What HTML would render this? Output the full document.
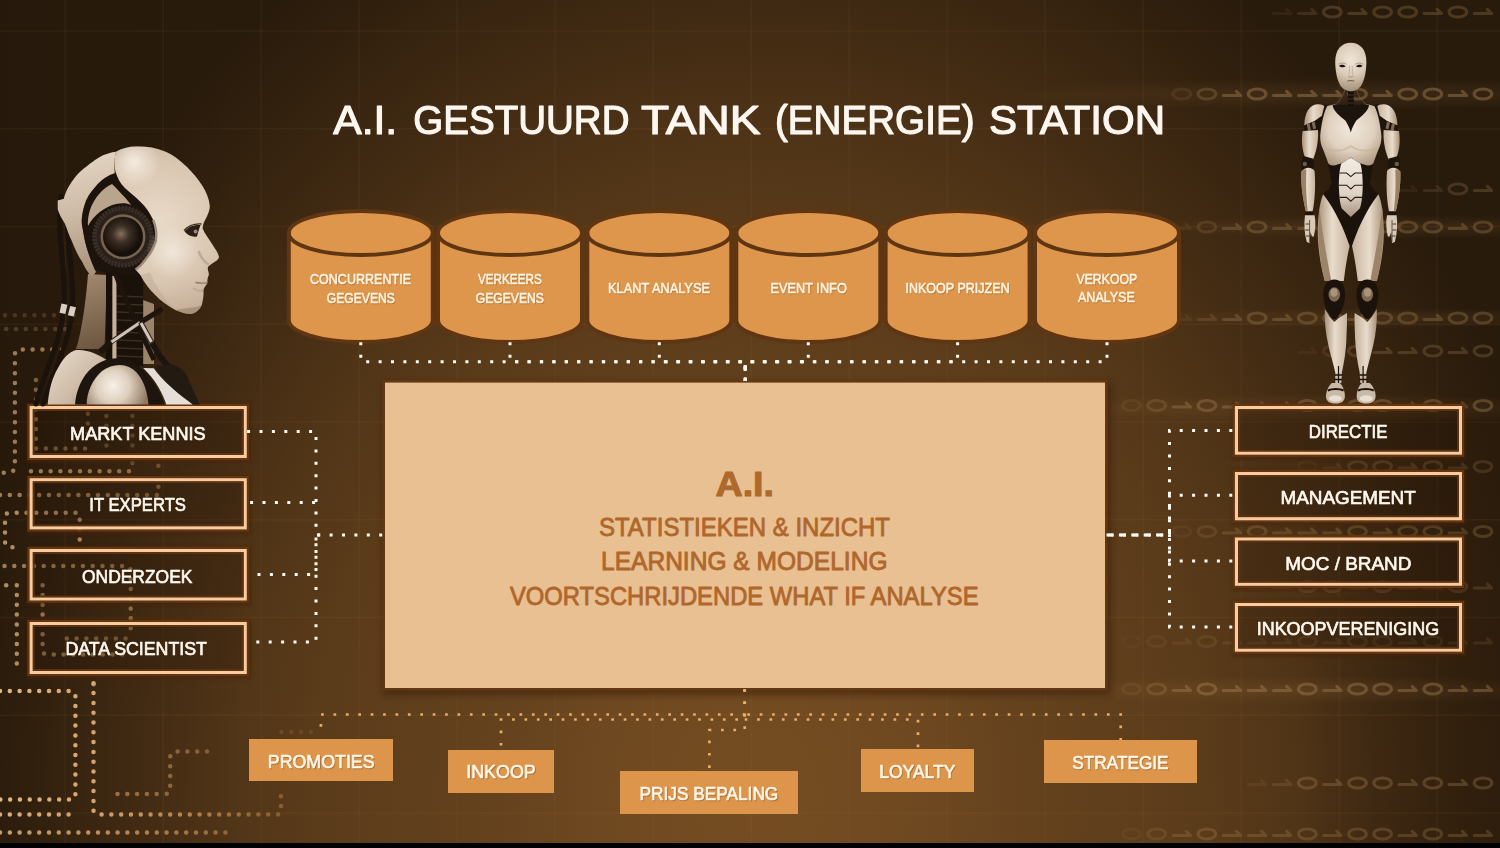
<!DOCTYPE html><html><head><meta charset="utf-8"><title>A.I. gestuurd tank station</title>
<style>html,body{margin:0;padding:0;background:#000;overflow:hidden}svg{display:block}text{font-family:"Liberation Sans",sans-serif}</style></head><body>
<svg width="1500" height="848" viewBox="0 0 1500 848">
<defs>
<radialGradient id="bg" cx="760" cy="800" r="1000" gradientUnits="userSpaceOnUse" gradientTransform="translate(760 800) scale(0.815 1) translate(-760 -800)">
<stop offset="0" stop-color="#764d22"/><stop offset="0.2" stop-color="#6e4820"/><stop offset="0.3" stop-color="#66431e"/><stop offset="0.55" stop-color="#5a3b1a"/><stop offset="0.65" stop-color="#513517"/><stop offset="0.75" stop-color="#452d14"/><stop offset="0.97" stop-color="#2b1c0c"/><stop offset="1" stop-color="#291b0c"/>
</radialGradient>
<linearGradient id="rightdark" x1="0" x2="1" y1="0" y2="0"><stop offset="0" stop-color="#2a1a0a" stop-opacity="0"/><stop offset="1" stop-color="#2a1a0a" stop-opacity="0.55"/></linearGradient>
<linearGradient id="leftdark" x1="0" x2="1" y1="0" y2="0"><stop offset="0" stop-color="#1c1005" stop-opacity="0.7"/><stop offset="0.35" stop-color="#1c1005" stop-opacity="0.3"/><stop offset="1" stop-color="#1c1005" stop-opacity="0"/></linearGradient>
<linearGradient id="rightdark" x1="0" x2="1" y1="0" y2="0"><stop offset="0" stop-color="#1c1005" stop-opacity="0"/><stop offset="1" stop-color="#1c1005" stop-opacity="0.35"/></linearGradient>
<radialGradient id="glow" cx="0.5" cy="0.5" r="0.5"><stop offset="0" stop-color="#a87a44" stop-opacity="0.16"/><stop offset="1" stop-color="#a87a44" stop-opacity="0"/></radialGradient>
<filter id="sh" x="-10%" y="-10%" width="120%" height="130%"><feGaussianBlur stdDeviation="3"/></filter>
<filter id="b2" x="-5%" y="-20%" width="110%" height="140%"><feGaussianBlur stdDeviation="1.6"/></filter>
<filter id="b1"><feGaussianBlur stdDeviation="0.6"/></filter>
</defs>
<rect width="1500" height="848" fill="url(#bg)"/>
<rect x="0" width="260" height="848" fill="url(#leftdark)" opacity="0.25"/>
<rect x="1300" y="420" width="200" height="428" fill="url(#rightdark)"/>
<ellipse cx="1330" cy="94" rx="330" ry="16" fill="url(#glow)"/>
<ellipse cx="1330" cy="408" rx="300" ry="14" fill="url(#glow)"/>
<ellipse cx="1300" cy="690" rx="330" ry="14" fill="url(#glow)"/>
<ellipse cx="1380" cy="227" rx="240" ry="12" fill="url(#glow)"/>
<ellipse cx="1380" cy="318" rx="240" ry="10" fill="url(#glow)"/>
<g id="grid" stroke="#c08a4a" stroke-opacity="0.075" stroke-width="1.5"><line x1="65.2" y1="0" x2="65.2" y2="848"/><line x1="163.2" y1="0" x2="163.2" y2="848"/><line x1="261.2" y1="0" x2="261.2" y2="848"/><line x1="359.2" y1="0" x2="359.2" y2="848"/><line x1="457.2" y1="0" x2="457.2" y2="848"/><line x1="555.2" y1="0" x2="555.2" y2="848"/><line x1="653.2" y1="0" x2="653.2" y2="848"/><line x1="751.2" y1="0" x2="751.2" y2="848"/><line x1="849.2" y1="0" x2="849.2" y2="848"/><line x1="947.2" y1="0" x2="947.2" y2="848"/><line x1="1045.2" y1="0" x2="1045.2" y2="848"/><line x1="1143.2" y1="0" x2="1143.2" y2="848"/><line x1="1241.2" y1="0" x2="1241.2" y2="848"/><line x1="1339.2" y1="0" x2="1339.2" y2="848"/><line x1="1437.2" y1="0" x2="1437.2" y2="848"/><line x1="1535.2" y1="0" x2="1535.2" y2="848"/><line x1="0" y1="31.0" x2="1500" y2="31.0"/><line x1="0" y1="128.75" x2="1500" y2="128.75"/><line x1="0" y1="226.5" x2="1500" y2="226.5"/><line x1="0" y1="324.25" x2="1500" y2="324.25"/><line x1="0" y1="422.0" x2="1500" y2="422.0"/><line x1="0" y1="519.75" x2="1500" y2="519.75"/><line x1="0" y1="617.5" x2="1500" y2="617.5"/><line x1="0" y1="715.25" x2="1500" y2="715.25"/><line x1="0" y1="813.0" x2="1500" y2="813.0"/></g>
<g id="binary" fill="none" stroke="#b08a5c" stroke-opacity="0.5" stroke-width="3.1" stroke-linecap="round" stroke-linejoin="round" filter="url(#b1)"><path d="M1273.5,13.5 H1290.9 L1286.6000000000001,9.4" opacity="0.19"/><path d="M1298.6,13.5 H1316.0 L1311.7,9.4" opacity="0.36"/><ellipse cx="1332.4" cy="12" rx="8.8" ry="5" opacity="0.52"/><path d="M1348.8,13.5 H1366.2 L1361.9,9.4" opacity="0.55"/><ellipse cx="1382.6" cy="12" rx="8.8" ry="5" opacity="0.55"/><ellipse cx="1407.7" cy="12" rx="8.8" ry="5" opacity="0.55"/><path d="M1424.1,13.5 H1441.5 L1437.2,9.4" opacity="0.55"/><ellipse cx="1457.9" cy="12" rx="8.8" ry="5" opacity="0.55"/><path d="M1474.3,13.5 H1491.7 L1487.4,9.4" opacity="0.55"/><ellipse cx="1181.8" cy="94" rx="8.8" ry="5" opacity="0.28"/><ellipse cx="1206.9" cy="94" rx="8.8" ry="5" opacity="0.52"/><path d="M1223.3,95.5 H1240.7 L1236.4,91.4" opacity="0.76"/><ellipse cx="1257.1" cy="94" rx="8.8" ry="5" opacity="0.80"/><path d="M1273.5,95.5 H1290.9 L1286.6000000000001,91.4" opacity="0.80"/><path d="M1298.6,95.5 H1316.0 L1311.7,91.4" opacity="0.80"/><path d="M1323.7,95.5 H1341.1000000000001 L1336.8000000000002,91.4" opacity="0.80"/><ellipse cx="1357.5" cy="94" rx="8.8" ry="5" opacity="0.80"/><path d="M1373.8999999999999,95.5 H1391.3 L1387.0,91.4" opacity="0.80"/><ellipse cx="1407.7" cy="94" rx="8.8" ry="5" opacity="0.80"/><ellipse cx="1432.8" cy="94" rx="8.8" ry="5" opacity="0.80"/><path d="M1449.2,95.5 H1466.6000000000001 L1462.3000000000002,91.4" opacity="0.80"/><ellipse cx="1483.0" cy="94" rx="8.8" ry="5" opacity="0.80"/><path d="M1399.0,190.5 H1416.4 L1412.1000000000001,186.4" opacity="0.17"/><path d="M1424.1,190.5 H1441.5 L1437.2,186.4" opacity="0.32"/><ellipse cx="1457.9" cy="189" rx="8.8" ry="5" opacity="0.47"/><path d="M1474.3,190.5 H1491.7 L1487.4,186.4" opacity="0.50"/><path d="M1173.1,228.5 H1190.5 L1186.2,224.4" opacity="0.21"/><ellipse cx="1206.9" cy="227" rx="8.8" ry="5" opacity="0.39"/><path d="M1223.3,228.5 H1240.7 L1236.4,224.4" opacity="0.57"/><ellipse cx="1257.1" cy="227" rx="8.8" ry="5" opacity="0.60"/><path d="M1273.5,228.5 H1290.9 L1286.6000000000001,224.4" opacity="0.60"/><path d="M1298.6,228.5 H1316.0 L1311.7,224.4" opacity="0.60"/><ellipse cx="1332.4" cy="227" rx="8.8" ry="5" opacity="0.60"/><path d="M1348.8,228.5 H1366.2 L1361.9,224.4" opacity="0.60"/><ellipse cx="1382.6" cy="227" rx="8.8" ry="5" opacity="0.60"/><ellipse cx="1407.7" cy="227" rx="8.8" ry="5" opacity="0.60"/><ellipse cx="1432.8" cy="227" rx="8.8" ry="5" opacity="0.60"/><path d="M1449.2,228.5 H1466.6000000000001 L1462.3000000000002,224.4" opacity="0.60"/><ellipse cx="1483.0" cy="227" rx="8.8" ry="5" opacity="0.60"/><path d="M1173.1,319.5 H1190.5 L1186.2,315.4" opacity="0.21"/><path d="M1198.2,319.5 H1215.6000000000001 L1211.3000000000002,315.4" opacity="0.39"/><path d="M1223.3,319.5 H1240.7 L1236.4,315.4" opacity="0.57"/><ellipse cx="1257.1" cy="318" rx="8.8" ry="5" opacity="0.60"/><path d="M1273.5,319.5 H1290.9 L1286.6000000000001,315.4" opacity="0.60"/><ellipse cx="1307.3" cy="318" rx="8.8" ry="5" opacity="0.60"/><ellipse cx="1332.4" cy="318" rx="8.8" ry="5" opacity="0.60"/><path d="M1348.8,319.5 H1366.2 L1361.9,315.4" opacity="0.60"/><ellipse cx="1382.6" cy="318" rx="8.8" ry="5" opacity="0.60"/><ellipse cx="1407.7" cy="318" rx="8.8" ry="5" opacity="0.60"/><path d="M1424.1,319.5 H1441.5 L1437.2,315.4" opacity="0.60"/><ellipse cx="1457.9" cy="318" rx="8.8" ry="5" opacity="0.60"/><ellipse cx="1483.0" cy="318" rx="8.8" ry="5" opacity="0.60"/><path d="M1298.6,352.5 H1316.0 L1311.7,348.4" opacity="0.17"/><ellipse cx="1332.4" cy="351" rx="8.8" ry="5" opacity="0.32"/><ellipse cx="1357.5" cy="351" rx="8.8" ry="5" opacity="0.47"/><path d="M1373.8999999999999,352.5 H1391.3 L1387.0,348.4" opacity="0.50"/><path d="M1399.0,352.5 H1416.4 L1412.1000000000001,348.4" opacity="0.50"/><ellipse cx="1432.8" cy="351" rx="8.8" ry="5" opacity="0.50"/><path d="M1449.2,352.5 H1466.6000000000001 L1462.3000000000002,348.4" opacity="0.50"/><ellipse cx="1483.0" cy="351" rx="8.8" ry="5" opacity="0.50"/><ellipse cx="1131.6" cy="405.5" rx="8.8" ry="5" opacity="0.24"/><ellipse cx="1156.7" cy="405.5" rx="8.8" ry="5" opacity="0.45"/><path d="M1173.1,407.0 H1190.5 L1186.2,402.9" opacity="0.66"/><ellipse cx="1206.9" cy="405.5" rx="8.8" ry="5" opacity="0.70"/><path d="M1223.3,407.0 H1240.7 L1236.4,402.9" opacity="0.70"/><path d="M1248.3999999999999,407.0 H1265.8 L1261.5,402.9" opacity="0.70"/><path d="M1273.5,407.0 H1290.9 L1286.6000000000001,402.9" opacity="0.70"/><ellipse cx="1307.3" cy="405.5" rx="8.8" ry="5" opacity="0.70"/><path d="M1323.7,407.0 H1341.1000000000001 L1336.8000000000002,402.9" opacity="0.70"/><ellipse cx="1357.5" cy="405.5" rx="8.8" ry="5" opacity="0.70"/><ellipse cx="1382.6" cy="405.5" rx="8.8" ry="5" opacity="0.70"/><path d="M1399.0,407.0 H1416.4 L1412.1000000000001,402.9" opacity="0.70"/><ellipse cx="1432.8" cy="405.5" rx="8.8" ry="5" opacity="0.70"/><path d="M1449.2,407.0 H1466.6000000000001 L1462.3000000000002,402.9" opacity="0.70"/><ellipse cx="1483.0" cy="405.5" rx="8.8" ry="5" opacity="0.70"/><ellipse cx="1307.3" cy="466.5" rx="8.8" ry="5" opacity="0.14"/><path d="M1323.7,468.0 H1341.1000000000001 L1336.8000000000002,463.9" opacity="0.26"/><ellipse cx="1357.5" cy="466.5" rx="8.8" ry="5" opacity="0.38"/><ellipse cx="1382.6" cy="466.5" rx="8.8" ry="5" opacity="0.40"/><path d="M1399.0,468.0 H1416.4 L1412.1000000000001,463.9" opacity="0.40"/><ellipse cx="1432.8" cy="466.5" rx="8.8" ry="5" opacity="0.40"/><path d="M1449.2,468.0 H1466.6000000000001 L1462.3000000000002,463.9" opacity="0.40"/><ellipse cx="1483.0" cy="466.5" rx="8.8" ry="5" opacity="0.40"/><ellipse cx="1181.8" cy="531.5" rx="8.8" ry="5" opacity="0.19"/><ellipse cx="1206.9" cy="531.5" rx="8.8" ry="5" opacity="0.36"/><path d="M1223.3,533.0 H1240.7 L1236.4,528.9" opacity="0.52"/><ellipse cx="1257.1" cy="531.5" rx="8.8" ry="5" opacity="0.55"/><path d="M1273.5,533.0 H1290.9 L1286.6000000000001,528.9" opacity="0.55"/><path d="M1298.6,533.0 H1316.0 L1311.7,528.9" opacity="0.55"/><path d="M1323.7,533.0 H1341.1000000000001 L1336.8000000000002,528.9" opacity="0.55"/><ellipse cx="1357.5" cy="531.5" rx="8.8" ry="5" opacity="0.55"/><path d="M1373.8999999999999,533.0 H1391.3 L1387.0,528.9" opacity="0.55"/><ellipse cx="1407.7" cy="531.5" rx="8.8" ry="5" opacity="0.55"/><ellipse cx="1432.8" cy="531.5" rx="8.8" ry="5" opacity="0.55"/><path d="M1449.2,533.0 H1466.6000000000001 L1462.3000000000002,528.9" opacity="0.55"/><ellipse cx="1483.0" cy="531.5" rx="8.8" ry="5" opacity="0.55"/><path d="M1248.3999999999999,588.0 H1265.8 L1261.5,583.9" opacity="0.16"/><path d="M1273.5,588.0 H1290.9 L1286.6000000000001,583.9" opacity="0.29"/><ellipse cx="1307.3" cy="586.5" rx="8.8" ry="5" opacity="0.43"/><ellipse cx="1332.4" cy="586.5" rx="8.8" ry="5" opacity="0.45"/><path d="M1348.8,588.0 H1366.2 L1361.9,583.9" opacity="0.45"/><ellipse cx="1382.6" cy="586.5" rx="8.8" ry="5" opacity="0.45"/><path d="M1399.0,588.0 H1416.4 L1412.1000000000001,583.9" opacity="0.45"/><path d="M1424.1,588.0 H1441.5 L1437.2,583.9" opacity="0.45"/><ellipse cx="1457.9" cy="586.5" rx="8.8" ry="5" opacity="0.45"/><path d="M1474.3,588.0 H1491.7 L1487.4,583.9" opacity="0.45"/><ellipse cx="1131.6" cy="641.5" rx="8.8" ry="5" opacity="0.10"/><ellipse cx="1156.7" cy="641.5" rx="8.8" ry="5" opacity="0.19"/><path d="M1173.1,643.0 H1190.5 L1186.2,638.9" opacity="0.28"/><ellipse cx="1206.9" cy="641.5" rx="8.8" ry="5" opacity="0.30"/><path d="M1223.3,643.0 H1240.7 L1236.4,638.9" opacity="0.30"/><path d="M1248.3999999999999,643.0 H1265.8 L1261.5,638.9" opacity="0.30"/><path d="M1273.5,643.0 H1290.9 L1286.6000000000001,638.9" opacity="0.30"/><ellipse cx="1307.3" cy="641.5" rx="8.8" ry="5" opacity="0.30"/><path d="M1323.7,643.0 H1341.1000000000001 L1336.8000000000002,638.9" opacity="0.30"/><ellipse cx="1357.5" cy="641.5" rx="8.8" ry="5" opacity="0.30"/><ellipse cx="1382.6" cy="641.5" rx="8.8" ry="5" opacity="0.30"/><path d="M1399.0,643.0 H1416.4 L1412.1000000000001,638.9" opacity="0.30"/><ellipse cx="1432.8" cy="641.5" rx="8.8" ry="5" opacity="0.30"/><path d="M1449.2,643.0 H1466.6000000000001 L1462.3000000000002,638.9" opacity="0.30"/><path d="M1474.3,643.0 H1491.7 L1487.4,638.9" opacity="0.30"/><ellipse cx="1131.6" cy="689" rx="8.8" ry="5" opacity="0.26"/><ellipse cx="1156.7" cy="689" rx="8.8" ry="5" opacity="0.49"/><path d="M1173.1,690.5 H1190.5 L1186.2,686.4" opacity="0.71"/><ellipse cx="1206.9" cy="689" rx="8.8" ry="5" opacity="0.75"/><path d="M1223.3,690.5 H1240.7 L1236.4,686.4" opacity="0.75"/><path d="M1248.3999999999999,690.5 H1265.8 L1261.5,686.4" opacity="0.75"/><path d="M1273.5,690.5 H1290.9 L1286.6000000000001,686.4" opacity="0.75"/><ellipse cx="1307.3" cy="689" rx="8.8" ry="5" opacity="0.75"/><path d="M1323.7,690.5 H1341.1000000000001 L1336.8000000000002,686.4" opacity="0.75"/><ellipse cx="1357.5" cy="689" rx="8.8" ry="5" opacity="0.75"/><ellipse cx="1382.6" cy="689" rx="8.8" ry="5" opacity="0.75"/><path d="M1399.0,690.5 H1416.4 L1412.1000000000001,686.4" opacity="0.75"/><ellipse cx="1432.8" cy="689" rx="8.8" ry="5" opacity="0.75"/><path d="M1449.2,690.5 H1466.6000000000001 L1462.3000000000002,686.4" opacity="0.75"/><path d="M1474.3,690.5 H1491.7 L1487.4,686.4" opacity="0.75"/><path d="M1248.3999999999999,784.5 H1265.8 L1261.5,780.4" opacity="0.21"/><path d="M1273.5,784.5 H1290.9 L1286.6000000000001,780.4" opacity="0.39"/><ellipse cx="1307.3" cy="783" rx="8.8" ry="5" opacity="0.57"/><path d="M1323.7,784.5 H1341.1000000000001 L1336.8000000000002,780.4" opacity="0.60"/><ellipse cx="1357.5" cy="783" rx="8.8" ry="5" opacity="0.60"/><ellipse cx="1382.6" cy="783" rx="8.8" ry="5" opacity="0.60"/><path d="M1399.0,784.5 H1416.4 L1412.1000000000001,780.4" opacity="0.60"/><ellipse cx="1432.8" cy="783" rx="8.8" ry="5" opacity="0.60"/><path d="M1449.2,784.5 H1466.6000000000001 L1462.3000000000002,780.4" opacity="0.60"/><ellipse cx="1483.0" cy="783" rx="8.8" ry="5" opacity="0.60"/><ellipse cx="1131.6" cy="834" rx="8.8" ry="5" opacity="0.19"/><ellipse cx="1156.7" cy="834" rx="8.8" ry="5" opacity="0.36"/><path d="M1173.1,835.5 H1190.5 L1186.2,831.4" opacity="0.52"/><ellipse cx="1206.9" cy="834" rx="8.8" ry="5" opacity="0.55"/><path d="M1223.3,835.5 H1240.7 L1236.4,831.4" opacity="0.55"/><path d="M1248.3999999999999,835.5 H1265.8 L1261.5,831.4" opacity="0.55"/><path d="M1273.5,835.5 H1290.9 L1286.6000000000001,831.4" opacity="0.55"/><ellipse cx="1307.3" cy="834" rx="8.8" ry="5" opacity="0.55"/><path d="M1323.7,835.5 H1341.1000000000001 L1336.8000000000002,831.4" opacity="0.55"/><ellipse cx="1357.5" cy="834" rx="8.8" ry="5" opacity="0.55"/><ellipse cx="1382.6" cy="834" rx="8.8" ry="5" opacity="0.55"/><path d="M1399.0,835.5 H1416.4 L1412.1000000000001,831.4" opacity="0.55"/><ellipse cx="1432.8" cy="834" rx="8.8" ry="5" opacity="0.55"/><path d="M1449.2,835.5 H1466.6000000000001 L1462.3000000000002,831.4" opacity="0.55"/><path d="M1474.3,835.5 H1491.7 L1487.4,831.4" opacity="0.55"/></g>
<defs><linearGradient id="cfade" gradientUnits="userSpaceOnUse" x1="0" y1="0" x2="320" y2="0"><stop offset="0" stop-color="#e8c08c"/><stop offset="0.3" stop-color="#dcaa72"/><stop offset="0.6" stop-color="#cf9a5e" stop-opacity="0.8"/><stop offset="1" stop-color="#b98448" stop-opacity="0.35"/></linearGradient></defs>
<g id="circuit" fill="none" stroke="url(#cfade)" stroke-width="4.5" stroke-linecap="round" stroke-dasharray="0 9.8" filter="url(#b1)"><path d="M5,315.2 H74" opacity="0.18"/><path d="M6.2,329 H74" opacity="0.22"/><path d="M62,349.4 H20 Q14.9,349.4 14.9,355 V466 Q14.9,472 8.7,472.7 H0" opacity="0.6"/><path d="M31,471.2 H130" opacity="0.6"/><path d="M35.9,380 V448.4 H86.6" opacity="0.45"/><path d="M87.9,413.8 V440" opacity="0.35"/><path d="M106.4,416 V446" opacity="0.35"/><path d="M132.4,416 V446" opacity="0.35"/><path d="M132.4,463 h0.1" opacity="0.4"/><path d="M158.4,465.7 h0.1" opacity="0.4"/><path d="M0,494.9 H158.4 V485" opacity="0.6"/><path d="M79.7,539.4 V519.6 L78,512.7 H10 Q5,512.7 5,518 V541 Q5,547.3 11,547.3 H20" opacity="0.7"/><path d="M4.5,565.9 H125 Q130.7,565.9 130.7,571 V636" opacity="0.6"/><path d="M6.2,585.2 h0.1" opacity="0.7"/><path d="M16.8,585.2 V672" opacity="0.7"/><path d="M42.6,585.2 V650 Q42.6,654.5 48,654.5 H128.7" opacity="0.55"/><path d="M66.8,638.4 H128.7" opacity="0.5"/><path d="M93.6,684.2 h0.1" opacity="0.7"/><path d="M0,691 H70 Q75.4,691 75.4,696 V795 Q75.4,799.6 70,799.6 H0" opacity="0.95"/><path d="M0,814.5 H70" opacity="0.9"/><path d="M93.5,683.3 V810 Q93.5,814.5 99,814.5 H277 Q281,814.5 281,810 V788" opacity="0.95"/><path d="M117.5,794 H165 Q170.2,794 170.2,789 V757.5 Q170.2,751.5 176,751.5 H213.2" opacity="0.6"/><path d="M0,832.4 H226" opacity="0.8"/><path d="M281.5,732 H313" opacity="0.45"/></g>
<text x="333.2" y="134.0" font-size="41.3" textLength="64.0" lengthAdjust="spacingAndGlyphs" fill="#fdf7f0" stroke="#fdf7f0" stroke-width="1.21" stroke-linejoin="round" font-weight="normal" >A.I.</text>
<text x="413.3" y="134.0" font-size="41.3" textLength="216.2" lengthAdjust="spacingAndGlyphs" fill="#fdf7f0" stroke="#fdf7f0" stroke-width="1.21" stroke-linejoin="round" font-weight="normal" >GESTUURD</text>
<text x="641.0" y="134.0" font-size="41.3" textLength="119.5" lengthAdjust="spacingAndGlyphs" fill="#fdf7f0" stroke="#fdf7f0" stroke-width="1.21" stroke-linejoin="round" font-weight="normal" >TANK</text>
<text x="775.0" y="134.0" font-size="41.3" textLength="199.5" lengthAdjust="spacingAndGlyphs" fill="#fdf7f0" stroke="#fdf7f0" stroke-width="1.21" stroke-linejoin="round" font-weight="normal" >(ENERGIE)</text>
<text x="989.0" y="134.0" font-size="41.3" textLength="176.1" lengthAdjust="spacingAndGlyphs" fill="#fdf7f0" stroke="#fdf7f0" stroke-width="1.21" stroke-linejoin="round" font-weight="normal" >STATION</text>
<g stroke="#5f3512" stroke-width="4" fill="#dd964c" stroke-linejoin="round"><path d="M288.8,233 V320 A72,22 0 0 0 432.8,320 V233 A72,22 0 0 0 288.8,233 Z"/><path d="M288.8,233 A72,22 0 0 0 432.8,233" fill="none"/></g>
<g stroke="#5f3512" stroke-width="4" fill="#dd964c" stroke-linejoin="round"><path d="M438,233 V320 A72,22 0 0 0 582,320 V233 A72,22 0 0 0 438,233 Z"/><path d="M438,233 A72,22 0 0 0 582,233" fill="none"/></g>
<g stroke="#5f3512" stroke-width="4" fill="#dd964c" stroke-linejoin="round"><path d="M587.3,233 V320 A72,22 0 0 0 731.3,320 V233 A72,22 0 0 0 587.3,233 Z"/><path d="M587.3,233 A72,22 0 0 0 731.3,233" fill="none"/></g>
<g stroke="#5f3512" stroke-width="4" fill="#dd964c" stroke-linejoin="round"><path d="M736.3,233 V320 A72,22 0 0 0 880.3,320 V233 A72,22 0 0 0 736.3,233 Z"/><path d="M736.3,233 A72,22 0 0 0 880.3,233" fill="none"/></g>
<g stroke="#5f3512" stroke-width="4" fill="#dd964c" stroke-linejoin="round"><path d="M885.6,233 V320 A72,22 0 0 0 1029.6,320 V233 A72,22 0 0 0 885.6,233 Z"/><path d="M885.6,233 A72,22 0 0 0 1029.6,233" fill="none"/></g>
<g stroke="#5f3512" stroke-width="4" fill="#dd964c" stroke-linejoin="round"><path d="M1035,233 V320 A72,22 0 0 0 1179,320 V233 A72,22 0 0 0 1035,233 Z"/><path d="M1035,233 A72,22 0 0 0 1179,233" fill="none"/></g>
<text x="310.6" y="284.8" font-size="14.4" textLength="101.0" lengthAdjust="spacingAndGlyphs" fill="#9a5f24" stroke="#9a5f24" stroke-width="0.57" stroke-linejoin="round" font-weight="normal" opacity="0.55">CONCURRENTIE</text>
<text x="310.0" y="284.0" font-size="14.4" textLength="101.0" lengthAdjust="spacingAndGlyphs" fill="#fff4e2" stroke="#fff4e2" stroke-width="0.57" stroke-linejoin="round" font-weight="normal" >CONCURRENTIE</text>
<text x="327.3" y="303.5" font-size="14.4" textLength="68.3" lengthAdjust="spacingAndGlyphs" fill="#9a5f24" stroke="#9a5f24" stroke-width="0.57" stroke-linejoin="round" font-weight="normal" opacity="0.55">GEGEVENS</text>
<text x="326.7" y="302.7" font-size="14.4" textLength="68.3" lengthAdjust="spacingAndGlyphs" fill="#fff4e2" stroke="#fff4e2" stroke-width="0.57" stroke-linejoin="round" font-weight="normal" >GEGEVENS</text>
<text x="478.6" y="284.8" font-size="14.4" textLength="63.7" lengthAdjust="spacingAndGlyphs" fill="#9a5f24" stroke="#9a5f24" stroke-width="0.57" stroke-linejoin="round" font-weight="normal" opacity="0.55">VERKEERS</text>
<text x="478.0" y="284.0" font-size="14.4" textLength="63.7" lengthAdjust="spacingAndGlyphs" fill="#fff4e2" stroke="#fff4e2" stroke-width="0.57" stroke-linejoin="round" font-weight="normal" >VERKEERS</text>
<text x="476.3" y="303.5" font-size="14.4" textLength="68.3" lengthAdjust="spacingAndGlyphs" fill="#9a5f24" stroke="#9a5f24" stroke-width="0.57" stroke-linejoin="round" font-weight="normal" opacity="0.55">GEGEVENS</text>
<text x="475.7" y="302.7" font-size="14.4" textLength="68.3" lengthAdjust="spacingAndGlyphs" fill="#fff4e2" stroke="#fff4e2" stroke-width="0.57" stroke-linejoin="round" font-weight="normal" >GEGEVENS</text>
<text x="608.6" y="293.5" font-size="14.4" textLength="102.0" lengthAdjust="spacingAndGlyphs" fill="#9a5f24" stroke="#9a5f24" stroke-width="0.57" stroke-linejoin="round" font-weight="normal" opacity="0.55">KLANT ANALYSE</text>
<text x="608.0" y="292.7" font-size="14.4" textLength="102.0" lengthAdjust="spacingAndGlyphs" fill="#fff4e2" stroke="#fff4e2" stroke-width="0.57" stroke-linejoin="round" font-weight="normal" >KLANT ANALYSE</text>
<text x="771.1" y="293.8" font-size="14.4" textLength="76.3" lengthAdjust="spacingAndGlyphs" fill="#9a5f24" stroke="#9a5f24" stroke-width="0.57" stroke-linejoin="round" font-weight="normal" opacity="0.55">EVENT INFO</text>
<text x="770.5" y="293.0" font-size="14.4" textLength="76.3" lengthAdjust="spacingAndGlyphs" fill="#fff4e2" stroke="#fff4e2" stroke-width="0.57" stroke-linejoin="round" font-weight="normal" >EVENT INFO</text>
<text x="906.0" y="293.8" font-size="14.4" textLength="104.3" lengthAdjust="spacingAndGlyphs" fill="#9a5f24" stroke="#9a5f24" stroke-width="0.57" stroke-linejoin="round" font-weight="normal" opacity="0.55">INKOOP PRIJZEN</text>
<text x="905.4" y="293.0" font-size="14.4" textLength="104.3" lengthAdjust="spacingAndGlyphs" fill="#fff4e2" stroke="#fff4e2" stroke-width="0.57" stroke-linejoin="round" font-weight="normal" >INKOOP PRIJZEN</text>
<text x="1077.1" y="284.5" font-size="14.4" textLength="60.7" lengthAdjust="spacingAndGlyphs" fill="#9a5f24" stroke="#9a5f24" stroke-width="0.57" stroke-linejoin="round" font-weight="normal" opacity="0.55">VERKOOP</text>
<text x="1076.5" y="283.7" font-size="14.4" textLength="60.7" lengthAdjust="spacingAndGlyphs" fill="#fff4e2" stroke="#fff4e2" stroke-width="0.57" stroke-linejoin="round" font-weight="normal" >VERKOOP</text>
<text x="1078.6" y="302.8" font-size="14.4" textLength="56.8" lengthAdjust="spacingAndGlyphs" fill="#9a5f24" stroke="#9a5f24" stroke-width="0.57" stroke-linejoin="round" font-weight="normal" opacity="0.55">ANALYSE</text>
<text x="1078.0" y="302.0" font-size="14.4" textLength="56.8" lengthAdjust="spacingAndGlyphs" fill="#fff4e2" stroke="#fff4e2" stroke-width="0.57" stroke-linejoin="round" font-weight="normal" >ANALYSE</text>
<rect x="383" y="383" width="728" height="312" fill="#2a1505" opacity="0.45" filter="url(#sh)"/>
<rect x="383.7" y="381.3" width="722.6" height="308" fill="#e8c091" stroke="#613813" stroke-width="2.6"/>
<text x="715.5" y="496.0" font-size="34.4" textLength="58.5" lengthAdjust="spacingAndGlyphs" fill="#b0692c" stroke="#b0692c" stroke-width="1.05" stroke-linejoin="round" font-weight="bold" >A.I.</text>
<text x="599.0" y="536.0" font-size="25.4" textLength="291.0" lengthAdjust="spacingAndGlyphs" fill="#b0672c" stroke="#b0672c" stroke-width="0.83" stroke-linejoin="round" font-weight="normal" >STATISTIEKEN &amp; INZICHT</text>
<text x="601.0" y="570.0" font-size="25.4" textLength="286.5" lengthAdjust="spacingAndGlyphs" fill="#b0672c" stroke="#b0672c" stroke-width="0.83" stroke-linejoin="round" font-weight="normal" >LEARNING &amp; MODELING</text>
<text x="510.0" y="605.0" font-size="25.4" textLength="468.5" lengthAdjust="spacingAndGlyphs" fill="#b0672c" stroke="#b0672c" stroke-width="0.83" stroke-linejoin="round" font-weight="normal" >VOORTSCHRIJDENDE WHAT IF ANALYSE</text>
<rect x="28.6" y="405.5" width="220.20000000000002" height="55.5" fill="none" stroke="#4a2408" stroke-width="4" opacity="0.55" filter="url(#b2)"/><rect x="28.5" y="404.9" width="219.4" height="54.2" fill="none" stroke="#64360f" stroke-width="2.2"/><rect x="31.200000000000003" y="407.6" width="214.00000000000003" height="48.8" fill="#1e0f04" fill-opacity="0.2" stroke="#f9cba0" stroke-width="3.2"/><rect x="33.7" y="410.1" width="209.00000000000003" height="43.8" fill="none" stroke="#5c3110" stroke-width="1.8"/>
<rect x="28.6" y="477.7" width="220.20000000000002" height="54.69999999999999" fill="none" stroke="#4a2408" stroke-width="4" opacity="0.55" filter="url(#b2)"/><rect x="28.5" y="477.09999999999997" width="219.4" height="53.39999999999999" fill="none" stroke="#64360f" stroke-width="2.2"/><rect x="31.200000000000003" y="479.8" width="214.00000000000003" height="47.999999999999986" fill="#1e0f04" fill-opacity="0.2" stroke="#f9cba0" stroke-width="3.2"/><rect x="33.7" y="482.3" width="209.00000000000003" height="42.999999999999986" fill="none" stroke="#5c3110" stroke-width="1.8"/>
<rect x="28.6" y="548.5" width="220.20000000000002" height="55.0" fill="none" stroke="#4a2408" stroke-width="4" opacity="0.55" filter="url(#b2)"/><rect x="28.5" y="547.9" width="219.4" height="53.7" fill="none" stroke="#64360f" stroke-width="2.2"/><rect x="31.200000000000003" y="550.6" width="214.00000000000003" height="48.3" fill="#1e0f04" fill-opacity="0.2" stroke="#f9cba0" stroke-width="3.2"/><rect x="33.7" y="553.1" width="209.00000000000003" height="43.3" fill="none" stroke="#5c3110" stroke-width="1.8"/>
<rect x="28.6" y="621.5" width="220.20000000000002" height="55.5" fill="none" stroke="#4a2408" stroke-width="4" opacity="0.55" filter="url(#b2)"/><rect x="28.5" y="620.9" width="219.4" height="54.2" fill="none" stroke="#64360f" stroke-width="2.2"/><rect x="31.200000000000003" y="623.6" width="214.00000000000003" height="48.8" fill="#1e0f04" fill-opacity="0.2" stroke="#f9cba0" stroke-width="3.2"/><rect x="33.7" y="626.1" width="209.00000000000003" height="43.8" fill="none" stroke="#5c3110" stroke-width="1.8"/>
<rect x="1233.9" y="405.5" width="230.0999999999999" height="52.19999999999999" fill="none" stroke="#4a2408" stroke-width="4" opacity="0.55" filter="url(#b2)"/><rect x="1233.8000000000002" y="404.9" width="229.2999999999999" height="50.89999999999999" fill="none" stroke="#64360f" stroke-width="2.2"/><rect x="1236.5" y="407.6" width="223.89999999999992" height="45.499999999999986" fill="#1e0f04" fill-opacity="0.2" stroke="#f9cba0" stroke-width="3.2"/><rect x="1239.0" y="410.1" width="218.89999999999992" height="40.499999999999986" fill="none" stroke="#5c3110" stroke-width="1.8"/>
<rect x="1233.9" y="471.5" width="230.0999999999999" height="51.799999999999955" fill="none" stroke="#4a2408" stroke-width="4" opacity="0.55" filter="url(#b2)"/><rect x="1233.8000000000002" y="470.9" width="229.2999999999999" height="50.49999999999996" fill="none" stroke="#64360f" stroke-width="2.2"/><rect x="1236.5" y="473.6" width="223.89999999999992" height="45.09999999999995" fill="#1e0f04" fill-opacity="0.2" stroke="#f9cba0" stroke-width="3.2"/><rect x="1239.0" y="476.1" width="218.89999999999992" height="40.09999999999995" fill="none" stroke="#5c3110" stroke-width="1.8"/>
<rect x="1233.9" y="537.0" width="230.0999999999999" height="51.799999999999955" fill="none" stroke="#4a2408" stroke-width="4" opacity="0.55" filter="url(#b2)"/><rect x="1233.8000000000002" y="536.4" width="229.2999999999999" height="50.49999999999996" fill="none" stroke="#64360f" stroke-width="2.2"/><rect x="1236.5" y="539.1" width="223.89999999999992" height="45.09999999999995" fill="#1e0f04" fill-opacity="0.2" stroke="#f9cba0" stroke-width="3.2"/><rect x="1239.0" y="541.6" width="218.89999999999992" height="40.09999999999995" fill="none" stroke="#5c3110" stroke-width="1.8"/>
<rect x="1233.9" y="602.5" width="230.0999999999999" height="52.200000000000045" fill="none" stroke="#4a2408" stroke-width="4" opacity="0.55" filter="url(#b2)"/><rect x="1233.8000000000002" y="601.9" width="229.2999999999999" height="50.90000000000005" fill="none" stroke="#64360f" stroke-width="2.2"/><rect x="1236.5" y="604.6" width="223.89999999999992" height="45.50000000000004" fill="#1e0f04" fill-opacity="0.2" stroke="#f9cba0" stroke-width="3.2"/><rect x="1239.0" y="607.1" width="218.89999999999992" height="40.50000000000004" fill="none" stroke="#5c3110" stroke-width="1.8"/>
<text x="70.1" y="439.8" font-size="19.2" textLength="135.5" lengthAdjust="spacingAndGlyphs" fill="#fff8ee" stroke="#fff8ee" stroke-width="0.68" stroke-linejoin="round" font-weight="normal" >MARKT KENNIS</text>
<text x="89.3" y="511.3" font-size="19.2" textLength="96.7" lengthAdjust="spacingAndGlyphs" fill="#fff8ee" stroke="#fff8ee" stroke-width="0.68" stroke-linejoin="round" font-weight="normal" >IT EXPERTS</text>
<text x="82.0" y="582.6" font-size="19.2" textLength="110.4" lengthAdjust="spacingAndGlyphs" fill="#fff8ee" stroke="#fff8ee" stroke-width="0.68" stroke-linejoin="round" font-weight="normal" >ONDERZOEK</text>
<text x="65.4" y="655.0" font-size="19.2" textLength="141.6" lengthAdjust="spacingAndGlyphs" fill="#fff8ee" stroke="#fff8ee" stroke-width="0.68" stroke-linejoin="round" font-weight="normal" >DATA SCIENTIST</text>
<text x="1308.8" y="438.3" font-size="19.2" textLength="78.7" lengthAdjust="spacingAndGlyphs" fill="#fff8ee" stroke="#fff8ee" stroke-width="0.68" stroke-linejoin="round" font-weight="normal" >DIRECTIE</text>
<text x="1280.5" y="503.8" font-size="19.2" textLength="135.3" lengthAdjust="spacingAndGlyphs" fill="#fff8ee" stroke="#fff8ee" stroke-width="0.68" stroke-linejoin="round" font-weight="normal" >MANAGEMENT</text>
<text x="1285.3" y="569.7" font-size="19.2" textLength="126.0" lengthAdjust="spacingAndGlyphs" fill="#fff8ee" stroke="#fff8ee" stroke-width="0.68" stroke-linejoin="round" font-weight="normal" >MOC / BRAND</text>
<text x="1256.7" y="635.0" font-size="19.2" textLength="182.5" lengthAdjust="spacingAndGlyphs" fill="#fff8ee" stroke="#fff8ee" stroke-width="0.68" stroke-linejoin="round" font-weight="normal" >INKOOPVERENIGING</text>
<rect x="249" y="739" width="144" height="42" fill="#dc954b"/>
<rect x="448" y="750" width="106" height="43" fill="#dc954b"/>
<rect x="620" y="771" width="178" height="43" fill="#dc954b"/>
<rect x="861" y="749" width="113" height="43" fill="#dc954b"/>
<rect x="1044" y="740" width="153" height="43" fill="#dc954b"/>
<text x="268.6" y="768.5" font-size="18.8" textLength="106.8" lengthAdjust="spacingAndGlyphs" fill="#8a5a28" stroke="#8a5a28" stroke-width="0.67" stroke-linejoin="round" font-weight="normal" opacity="0.6">PROMOTIES</text>
<text x="267.8" y="767.5" font-size="18.8" textLength="106.8" lengthAdjust="spacingAndGlyphs" fill="#fff6e8" stroke="#fff6e8" stroke-width="0.67" stroke-linejoin="round" font-weight="normal" >PROMOTIES</text>
<text x="467.0" y="779.3" font-size="18.8" textLength="69.6" lengthAdjust="spacingAndGlyphs" fill="#8a5a28" stroke="#8a5a28" stroke-width="0.67" stroke-linejoin="round" font-weight="normal" opacity="0.6">INKOOP</text>
<text x="466.2" y="778.3" font-size="18.8" textLength="69.6" lengthAdjust="spacingAndGlyphs" fill="#fff6e8" stroke="#fff6e8" stroke-width="0.67" stroke-linejoin="round" font-weight="normal" >INKOOP</text>
<text x="640.3" y="800.6" font-size="18.8" textLength="138.8" lengthAdjust="spacingAndGlyphs" fill="#8a5a28" stroke="#8a5a28" stroke-width="0.67" stroke-linejoin="round" font-weight="normal" opacity="0.6">PRIJS BEPALING</text>
<text x="639.5" y="799.6" font-size="18.8" textLength="138.8" lengthAdjust="spacingAndGlyphs" fill="#fff6e8" stroke="#fff6e8" stroke-width="0.67" stroke-linejoin="round" font-weight="normal" >PRIJS BEPALING</text>
<text x="880.1" y="779.1" font-size="18.8" textLength="76.0" lengthAdjust="spacingAndGlyphs" fill="#8a5a28" stroke="#8a5a28" stroke-width="0.67" stroke-linejoin="round" font-weight="normal" opacity="0.6">LOYALTY</text>
<text x="879.3" y="778.1" font-size="18.8" textLength="76.0" lengthAdjust="spacingAndGlyphs" fill="#fff6e8" stroke="#fff6e8" stroke-width="0.67" stroke-linejoin="round" font-weight="normal" >LOYALTY</text>
<text x="1073.1" y="769.8" font-size="18.8" textLength="96.3" lengthAdjust="spacingAndGlyphs" fill="#8a5a28" stroke="#8a5a28" stroke-width="0.67" stroke-linejoin="round" font-weight="normal" opacity="0.6">STRATEGIE</text>
<text x="1072.3" y="768.8" font-size="18.8" textLength="96.3" lengthAdjust="spacingAndGlyphs" fill="#fff6e8" stroke="#fff6e8" stroke-width="0.67" stroke-linejoin="round" font-weight="normal" >STRATEGIE</text>
<g fill="none" stroke="#fffaf2" stroke-width="3" stroke-dasharray="3 9.4"><path d="M247.1,431.5 H316 V535 H383"/><path d="M250.1,502.6 H316"/><path d="M257.5,574.6 H316 V535 H326"/><path d="M256.3,642 H316 V535"/><path d="M1232.3,430.5 H1169.5 V535 H1106"/><path d="M1232.3,495.2 H1169.5 V535 H1106"/><path d="M1232.3,561 H1169.5 V535 H1106"/><path d="M1232.3,627 H1169.5 V535 H1106"/><path d="M360.8,342.3 V361.7 H745.2 V381"/><path d="M510,342.3 V361.7 H745.2 V381"/><path d="M659.3,342.3 V361.7 H745.2 V381"/><path d="M808.3,342.3 V361.7 H745.2 V381"/><path d="M957.6,342.3 V361.7 H745.2 V381"/><path d="M1107,342.3 V361.7 H745.2 V381"/></g>
<g fill="none" stroke="#e9ad68" stroke-width="2.7" stroke-dasharray="2.7 9.7"><path d="M744.7,689 V714.5 H320.9 V735"/><path d="M747.3,714.5 H1120.7 V740"/><path d="M744.7,689 V719.5 H501 V750"/><path d="M744.7,719.5 H918 V749"/><path d="M744.7,689 V730 H709.4 V771"/></g>
<g id="headbot">
<defs>
<radialGradient id="hbFront" cx="160" cy="222" r="108" gradientUnits="userSpaceOnUse"><stop offset="0" stop-color="#e8d9c7"/><stop offset="0.55" stop-color="#dac7b2"/><stop offset="0.85" stop-color="#c6b09a"/><stop offset="1" stop-color="#b09880"/></radialGradient>
<radialGradient id="hbCheek" cx="172" cy="252" r="26" gradientUnits="userSpaceOnUse"><stop offset="0" stop-color="#f1e8dc" stop-opacity="0.9"/><stop offset="1" stop-color="#f1e8dc" stop-opacity="0"/></radialGradient>
<radialGradient id="hbTop" cx="134" cy="162" r="26" gradientUnits="userSpaceOnUse"><stop offset="0" stop-color="#f5ede2" stop-opacity="0.95"/><stop offset="1" stop-color="#f5ede2" stop-opacity="0"/></radialGradient>
<linearGradient id="hbBack" x1="70" y1="160" x2="100" y2="280" gradientUnits="userSpaceOnUse"><stop offset="0" stop-color="#e2d3c2"/><stop offset="0.5" stop-color="#c9b6a1"/><stop offset="1" stop-color="#a38b72"/></linearGradient>
<radialGradient id="hbCone" cx="121" cy="234" r="19" gradientUnits="userSpaceOnUse"><stop offset="0" stop-color="#85705c"/><stop offset="0.45" stop-color="#3d2f23"/><stop offset="1" stop-color="#17100a"/></radialGradient>
<radialGradient id="hbDome" cx="113" cy="386" r="36" gradientUnits="userSpaceOnUse"><stop offset="0" stop-color="#f7f0e7"/><stop offset="0.45" stop-color="#dfd0bf"/><stop offset="1" stop-color="#8f7760"/></radialGradient>
<linearGradient id="hbSh" x1="50" y1="350" x2="105" y2="404" gradientUnits="userSpaceOnUse"><stop offset="0" stop-color="#e9dccd"/><stop offset="0.6" stop-color="#cdbaa6"/><stop offset="1" stop-color="#a58e77"/></linearGradient>
<linearGradient id="hbSilver" x1="0" y1="0" x2="0" y2="1"><stop offset="0" stop-color="#6d6157"/><stop offset="0.4" stop-color="#e8dfd5"/><stop offset="1" stop-color="#5a4e44"/></linearGradient>
<linearGradient id="hbNeckL" x1="80" y1="276" x2="104" y2="350" gradientUnits="userSpaceOnUse"><stop offset="0" stop-color="#a1886e"/><stop offset="1" stop-color="#6a543f"/></linearGradient>
</defs>
<!-- back cables -->
<g fill="none" stroke="#1a120b" stroke-width="5" stroke-linecap="round">
<path d="M61,196 C56,230 66,270 64,305 C62,340 44,372 36,404"/>
<path d="M68,205 C64,240 76,275 72,310 C69,345 52,376 43,404"/>
</g>
<rect x="60.5" y="304" width="6" height="9.5" fill="#d9cfc4" transform="rotate(12 63.5 308.5)"/>
<rect x="69" y="306.5" width="6" height="9.5" fill="#d9cfc4" transform="rotate(14 72 311)"/>
<path d="M104,318 C100,335 92,345 84,351" fill="none" stroke="#1a120b" stroke-width="2.2"/>
<!-- neck plates -->
<path d="M88,274 L107,275 L104.5,349 L76,349 C82,330 86,300 88,274Z" fill="url(#hbNeckL)"/>
<rect x="112.2" y="276" width="4.6" height="90" fill="#c4b09b"/>
<path d="M143,300 L154,304 L154,364 L143,364Z" fill="#9c846b"/>
<!-- spine -->
<path d="M116.6,272 H143.2 V366 H116.6Z" fill="#19110a"/>
<g stroke="#3c2d20" stroke-width="1.6">
<line x1="117" y1="296" x2="143" y2="297"/><line x1="117" y1="304" x2="143" y2="305"/><line x1="117" y1="312" x2="143" y2="313"/><line x1="117" y1="320" x2="143" y2="321"/><line x1="117" y1="332" x2="143" y2="333"/><line x1="117" y1="340" x2="143" y2="341"/><line x1="117" y1="348" x2="143" y2="349"/><line x1="117" y1="356" x2="143" y2="357"/>
</g>
<path d="M106,272 H112.2 V366 H106Z" fill="#17100a"/>
<!-- long dark cable from ear down -->
<path d="M113,266 C120,290 140,330 154,360" fill="none" stroke="#1c140d" stroke-width="5"/>
<path d="M160.5,310 L141,322" fill="none" stroke="#1c140d" stroke-width="5" stroke-linecap="round"/>
<!-- silver tubes -->
<path d="M110.5,342.5 L140.5,322" stroke="#2a2018" stroke-width="5" fill="none"/>
<path d="M111.5,342 L140,322.5" stroke="#cfc3b6" stroke-width="3" fill="none"/>
<path d="M140.5,322 L152,343" stroke="#2a2018" stroke-width="5" fill="none"/>
<path d="M141,323 L151.5,342" stroke="#d4c9bd" stroke-width="3" fill="none"/>
<path d="M152,343 C157,352 162,360 168,366" stroke="#1c140d" stroke-width="6" fill="none"/>
<path d="M100,352 L110.5,342.5" stroke="#1c140d" stroke-width="6" fill="none"/>
<!-- shoulders -->
<path d="M47.7,404.5 C49,390 52,378 58,368 C63,358 69,352 76,350 C88,349 100,355 108,361 L96,382 L86,404.5Z" fill="url(#hbSh)"/>
<path d="M75,404.5 C76,390 82,376 93,367 C104,358 118,356 130,361 C146,368 158,386 164.4,404.5Z" fill="#1d150e"/>
<path d="M86.6,404.5 C87,392 92,380 102,371 C110,365 121,363 129,367 C140,372 147,386 148.5,404.5Z" fill="url(#hbDome)"/>
<path d="M143.2,368 L153.8,368.2 C160,377 170,388 189,399.7 L192.7,404.5 L166.2,404.5 C164,396 156,380 143.2,368Z" fill="#e6dfd7"/>
<path d="M154.7,366 L171.5,364.3 C178,366 182,369 185.6,373.2 L199.8,404.5 L192.7,404.5 C180,395 165,384 154.7,366Z" fill="#231a12"/>
<!-- back skull -->
<path d="M116,151.8 C106,153 99,157 93.1,161.5 C84,168 78,173 73.6,179.2 C68,187 65,193 63.9,198.7 L57.7,200.4 L57.7,209.3 C59,214 62,219 64.8,223.4 C67,229 69,235 71.8,241.1 C75,249 78,256 82.4,262.3 C85,268 88,273 92,277 L96,272 C90,258 85,244 83.3,231.4 C82,227 81.5,223 81.6,219.9 C82,212 84,206 86,200.4 C89,194 93,189 98.4,184.5 C103,180 108,178 115.2,176.6 C114,168 114,160 116,151.8Z" fill="url(#hbBack)"/>
<!-- ear recess dark -->
<path d="M115.2,173 C108,175 101,180 96,186 C89,194 83.5,206 82.5,219 C82,232 86,250 95,270 L113,274 L140,276 L150,262 L156,240 L153,220 L141,202 L125,188Z" fill="#1b130c"/>
<!-- beige crescent -->
<path d="M112,184 C103,188 94,198 90,210 C88,216 87.5,222 88,226 C94,215 104,207 116,204 C122,203 127,203 131,205 C126,198 118,190 112,184Z" fill="#b9a48d"/>
<!-- speaker -->
<circle cx="123" cy="236.7" r="30" fill="#2b211a"/>
<circle cx="123" cy="236.7" r="28.5" fill="none" stroke="#3a2f26" stroke-width="5" stroke-dasharray="2.2 1.2"/>
<circle cx="123" cy="236.7" r="22.5" fill="#76644f"/>
<circle cx="123" cy="236.7" r="20" fill="url(#hbCone)"/>
<!-- front plate -->
<path d="M116,151.8 C122,148 130,146 139,146.5 C148,146.5 156,148 163.8,150.9 C172,154 180,160 186.8,166.8 C193,173 198,179 202.7,186.3 C206,192 209,198 209.8,205.7 C210,210 208,214 206.2,218.1 C204,222 202.5,225 202.7,228.7 C205,234 209,239 212.4,244.6 C215,249 218.5,253 219,257 C219,260 214,262 208,266.7 C207,269 209,272 208.9,274.7 C208,277 207,280 207.4,282.6 C207,285 204,287 203.4,290.2 C204,295 203,300 201.8,305.1 C200,309 197,312 193.5,313.3 C187,315 181,312 175.4,310 C168,306 161,301 155.5,295.2 C149,289 144,282 140.7,275.4 L135.5,269.4 C140,267 143,263 146.1,258.8 C151,253 154,247 155.8,241.1 C157,234 156,227 153.2,219.9 C150,213 146,207 140.8,202.2 C136,197 130,193 124.9,188.1 C120,183 117,177 115.2,170.4 C114,164 114.5,157 116,151.8Z" fill="url(#hbFront)"/>
<path d="M116,151.8 C122,148 130,146 139,146.5 C148,146.5 156,148 163.8,150.9 C172,154 180,160 186.8,166.8 L160,200 L124.9,188.1 C120,183 117,177 115.2,170.4 C114,164 114.5,157 116,151.8Z" fill="url(#hbTop)"/>
<circle cx="172" cy="252" r="26" fill="url(#hbCheek)"/>
<!-- grey rim along seam -->
<path d="M135.5,269.4 C140,267 143,263 146.1,258.8 C151,253 154,247 155.8,241.1 C157,234 156,227 153.2,219.9" fill="none" stroke="#9c8b7b" stroke-width="2.4"/>
<!-- eye -->
<path d="M184.5,231.5 C188,226.5 194,224.5 200.5,225 C199,229 198,233 197,236.5 C192,237.5 187.5,235 184.5,231.5Z" fill="#2a1e16"/>
<circle cx="195.6" cy="231.6" r="2" fill="#9a8674"/>
<path d="M184,230.5 C189,225 195,223.5 201.5,224" fill="none" stroke="#3a2a20" stroke-width="1.4"/>
<!-- nose / lip shading -->
<path d="M199,252 C201,258 205,262 208,264" fill="none" stroke="#b39d88" stroke-width="2.5" stroke-linecap="round" opacity="0.7"/>
<path d="M196,282.5 C200,283.5 204,283.2 207.4,282.6" fill="none" stroke="#8f7966" stroke-width="1.4" stroke-linecap="round"/>
<path d="M193,288 C197,291 201,291.5 203.4,290.2" fill="none" stroke="#b8a38f" stroke-width="2" opacity="0.7"/>
<path d="M175.4,310 C181,312 187,315 193.5,313.3 C197,312 200,309 201.8,305.1 C196,308 186,308 175.4,310Z" fill="#a38c76" opacity="0.8"/>
<path d="M140.7,275.4 C144,282 149,289 155.5,295.2 C161,301 168,306 175.4,310 C166,300 156,288 150,272Z" fill="#b49f89" opacity="0.35"/>
</g>

<g id="bodybot" transform="translate(1350.8 0)">
<defs>
<linearGradient id="rbSkin" x1="-1" y1="0" x2="1" y2="0" gradientUnits="objectBoundingBox"><stop offset="0" stop-color="#bfab95"/><stop offset="0.35" stop-color="#efe5d8"/><stop offset="0.65" stop-color="#efe5d8"/><stop offset="1" stop-color="#bfab95"/></linearGradient>
<radialGradient id="rbHead" cx="0" cy="60" r="30" gradientUnits="userSpaceOnUse"><stop offset="0" stop-color="#efe5d8"/><stop offset="0.5" stop-color="#dccdba"/><stop offset="1" stop-color="#a9947d"/></radialGradient>
<radialGradient id="rbChest" cx="0" cy="128" r="42" gradientUnits="userSpaceOnUse"><stop offset="0" stop-color="#f1e8dc"/><stop offset="0.55" stop-color="#e0d1bf"/><stop offset="1" stop-color="#ab957d"/></radialGradient>
<linearGradient id="rbAbd" x1="0" y1="160" x2="0" y2="217" gradientUnits="userSpaceOnUse"><stop offset="0" stop-color="#f2ebe2"/><stop offset="0.6" stop-color="#ded2c4"/><stop offset="1" stop-color="#a8947f"/></linearGradient>
<linearGradient id="rbLimb" x1="0" y1="0" x2="1" y2="0"><stop offset="0" stop-color="#a8927a"/><stop offset="0.45" stop-color="#e9dccb"/><stop offset="1" stop-color="#c6b29c"/></linearGradient>
<linearGradient id="rbLimbR" x1="1" y1="0" x2="0" y2="0"><stop offset="0" stop-color="#a8927a"/><stop offset="0.45" stop-color="#e9dccb"/><stop offset="1" stop-color="#c6b29c"/></linearGradient>
<g id="rbHalf">
 <!-- shoulder dome -->
 <path d="M-46.6,125.6 C-46.5,113 -41,104.6 -33.5,104.3 C-30,104.2 -27.5,105 -26.5,106.2 L-29,116 L-36,121Z" fill="url(#rbLimb)"/>
 <!-- armpit mech -->
 <path d="M-46.6,125.6 L-36,121 L-29,116 L-30.5,131 L-47,133Z" fill="#1d140c"/>
 <rect x="-43.5" y="123.5" width="3" height="7" fill="#7d6a56" transform="rotate(-12 -42 127)"/>
 <rect x="-38.5" y="122" width="3" height="7" fill="#7d6a56" transform="rotate(-12 -37 125)"/>
 <!-- upper arm -->
 <path d="M-48.2,131 C-49.8,141 -48.5,151 -45.5,158 L-38,160 C-34.2,151 -32.2,141 -32.8,130Z" fill="url(#rbLimb)"/>
 <!-- elbow -->
 <path d="M-47.5,156 C-50,161 -50,168 -48,173 L-39,172.5 C-36.5,168 -36.5,162 -38,158.5Z" fill="#1d140c"/>
 <circle cx="-46" cy="164" r="2.2" fill="#6d5b49"/>
 <!-- forearm -->
 <path d="M-49.6,171.5 C-50.2,185 -47.5,200 -45,211.5 L-38.2,211.5 C-35.8,200 -35.2,185 -36.2,171 C-40,166 -46,167 -49.6,171.5Z" fill="url(#rbLimb)"/>
 <path d="M-49.6,171.5 C-50.2,185 -47.5,200 -45,211.5 L-43,211.5 C-44.5,198 -45.5,184 -44.6,169.5 C-46.5,169.5 -48.5,170.2 -49.6,171.5Z" fill="#9a8267"/>
 <rect x="-45.6" y="211.5" width="8" height="3.6" fill="#1d140c"/>
 <!-- hand -->
 <path d="M-45.8,215.3 C-47,224 -46.4,234 -44,242 L-41.2,243 L-40.4,232 L-38.8,236.5 L-37,236.5 C-35.4,229 -34.8,222 -36.2,215.3Z" fill="#d9cab7"/>
 <path d="M-45.2,224 H-41.5 M-45.6,230 H-41.5 M-44.8,236 H-41.2" stroke="#3a2c20" stroke-width="0.9" fill="none"/>
 <path d="M-41.2,220 V242" stroke="#4a3a2c" stroke-width="0.8" fill="none"/>
 <!-- thigh -->
 <path d="M-27.6,194.3 C-31,202 -32.6,214 -33,230 C-33.3,245 -31,262 -26,281 L-7,281 C-5.5,268 -3.5,256 -1.2,246 C-6,232 -14,212 -27.6,194.3Z" fill="url(#rbLimb)"/>
 <path d="M-31.5,208 C-33.6,232 -31.5,260 -26,281 L-19.5,281 C-24,258 -28.5,232 -31.5,208Z" fill="#9b8468"/>
 <!-- knee -->
 <path d="M-16.5,279.5 C-23,279.5 -27.5,285 -27.5,294 C-27.5,304 -24,313 -18,319 L-15,319 C-9,313 -5.7,304 -5.7,294 C-5.7,285 -10,279.5 -16.5,279.5Z" fill="#1b130b"/>
 <ellipse cx="-16.5" cy="294.5" rx="5.8" ry="7.2" fill="#7d6852"/>
 <ellipse cx="-16.8" cy="292.5" rx="3.6" ry="4.2" fill="#a8937b"/>
 <!-- shin -->
 <path d="M-26,309 C-26.5,322 -25,334 -22.5,345 C-20.5,354 -17.5,364 -15.4,373 L-9,373 C-6.5,362 -4.8,350 -4.4,340 C-4,330 -3.6,320 -3.8,313 L-12,318 L-16.5,322 L-21,317Z" fill="url(#rbLimb)"/>
 <!-- ankle -->
 <path d="M-15.6,373 L-8.8,373 L-9.5,383 L-15.5,383Z" fill="#cdbca8"/>
 <path d="M-16,375 H-8.5 M-16.5,379.5 H-8.5" stroke="#1b130b" stroke-width="1.6"/>
 <path d="M-12.3,366 V384" stroke="#1b130b" stroke-width="1.2"/>
 <!-- foot -->
 <path d="M-19,383 L-11,383 C-8,386 -5.9,391 -5.9,396 C-5.9,401 -9,403.6 -15.4,403.6 C-21.6,403.6 -24.8,401 -24.8,396 C-24.8,391 -22,386 -19,383Z" fill="#c9b9a6"/>
 <path d="M-23,390.5 C-19,388.5 -11,388.5 -7.2,390.5" stroke="#1b130b" stroke-width="2" fill="none"/>
 <ellipse cx="-15.4" cy="398.5" rx="6.5" ry="3.2" fill="#f1e9de" opacity="0.8"/>
</g>
</defs>
<!-- dark suit / under torso -->
<path d="M-26.5,105 L-22.6,163.2 L-20.5,174.5 L-19,183 L-22,189 L-27.6,194.3 C-14,212 -6,232 -1.2,246 L0,249 L1.2,246 C6,232 14,212 27.6,194.3 L22,189 L19,183 L20.5,174.5 L22.6,163.2 L26.5,105Z" fill="#1b130b"/>
<path d="M-33,127 L-26,104.5 L-22,106 L-28,131Z M33,127 L26,104.5 L22,106 L28,131Z" fill="#1b130b"/>
<use href="#rbHalf"/>
<use href="#rbHalf" transform="scale(-1 1)"/>
<!-- neck -->
<path d="M-6,90 C-8,98 -13,103 -18,106 M6,90 C8,98 13,103 18,106" stroke="#6b5846" stroke-width="0.8" fill="none"/>
<rect x="-2.9" y="88" width="5.8" height="24" fill="#16100a"/>
<path d="M-2.9,95 H2.9 M-2.9,99 H2.9 M-2.9,103 H2.9" stroke="#4a3b2d" stroke-width="0.8"/>
<!-- chest -->
<path d="M0,108.5 C-5,104.5 -11,103.6 -18.3,104.8 L-23.5,106 C-27,112 -29.5,124 -30.6,136 C-30.8,141 -29.5,146 -27.5,150 C-25.5,155 -24,159 -22.6,163.2 C-20,166.5 -15,166 -8,162.6 C-5,161 -2,158.8 0,157.5 C2,158.8 5,161 8,162.6 C15,166 20,166.5 22.6,163.2 C24,159 25.5,155 27.5,150 C29.5,146 30.8,141 30.6,136 C29.5,124 27,112 23.5,106 L18.3,104.8 C11,103.6 5,104.5 0,108.5Z" fill="url(#rbChest)"/>
<path d="M-27,147 C-20,152 -8,152 0,146 C8,152 20,152 27,147" fill="none" stroke="#c3b09b" stroke-width="2" opacity="0.6"/>
<!-- collar -->
<path d="M-18.3,105.2 C-11,103 -5,104 0,108 C5,104 11,103 18.3,105.2 C17,112 10,116.5 5.5,120.5 C3,124.5 1,128.5 0,132.6 C-1,128.5 -3,124.5 -5.5,120.5 C-10,116.5 -17,112 -18.3,105.2Z" fill="#1d150d"/>
<!-- abdomen -->
<path d="M-9.5,163.5 C-6,161.6 -3,159.2 0,157.8 C3,159.2 6,161.6 9.5,163.5 C11.5,170 12.2,180 11.8,190 C11.4,198 10.5,205 9,208.5 L0,217 L-9,208.5 C-10.5,205 -11.4,198 -11.8,190 C-12.2,180 -11.5,170 -9.5,163.5Z" fill="url(#rbAbd)"/>
<path d="M-11.2,173 H-4.2 L0,176.6 L4.2,173 H11.2 M-11.8,185.2 H-4.2 L0,189 L4.2,185.2 H11.8 M-11.2,197.4 H-4.2 L0,201.2 L4.2,197.4 H11.2" fill="none" stroke="#241a11" stroke-width="1.1"/>
<!-- head -->
<path d="M0,42.8 C9.5,42.8 15.7,50 15.6,62 C15.5,71 13.8,80 10.2,86 C7.2,90 3,91.2 0,91.2 C-3,91.2 -7.2,90 -10.2,86 C-13.8,80 -15.5,71 -15.6,62 C-15.7,50 -9.5,42.8 0,42.8Z" fill="url(#rbHead)"/>
<path d="M-11.8,66 C-10,64.2 -7,64.2 -5,66.3 C-7,67.6 -10,67.6 -11.8,66Z M11.8,66 C10,64.2 7,64.2 5,66.3 C7,67.6 10,67.6 11.8,66Z" fill="#17100a"/>
<path d="M-12.3,64.3 C-10,62.6 -7,62.6 -4.6,64.2 M12.3,64.3 C10,62.6 7,62.6 4.6,64.2" fill="none" stroke="#8a7562" stroke-width="0.7"/>
<path d="M-1.2,66 L-1.6,75.5 M1.4,66 L1.8,75.5" stroke="#c5b29d" stroke-width="0.9" fill="none"/>
<path d="M-2.6,76.3 C-1,77.2 1,77.2 2.6,76.3" stroke="#9a8571" stroke-width="0.8" fill="none"/>
<path d="M-3.6,81.2 C-1.5,80.4 1.5,80.4 3.6,81.2" stroke="#6a5747" stroke-width="1" fill="none"/>
<path d="M-2.8,83.6 C-1,84.4 1,84.4 2.8,83.6" stroke="#b19c87" stroke-width="0.8" fill="none"/>
</g>

<rect x="0" y="843" width="1500" height="5" fill="#000"/>
</svg></body></html>
